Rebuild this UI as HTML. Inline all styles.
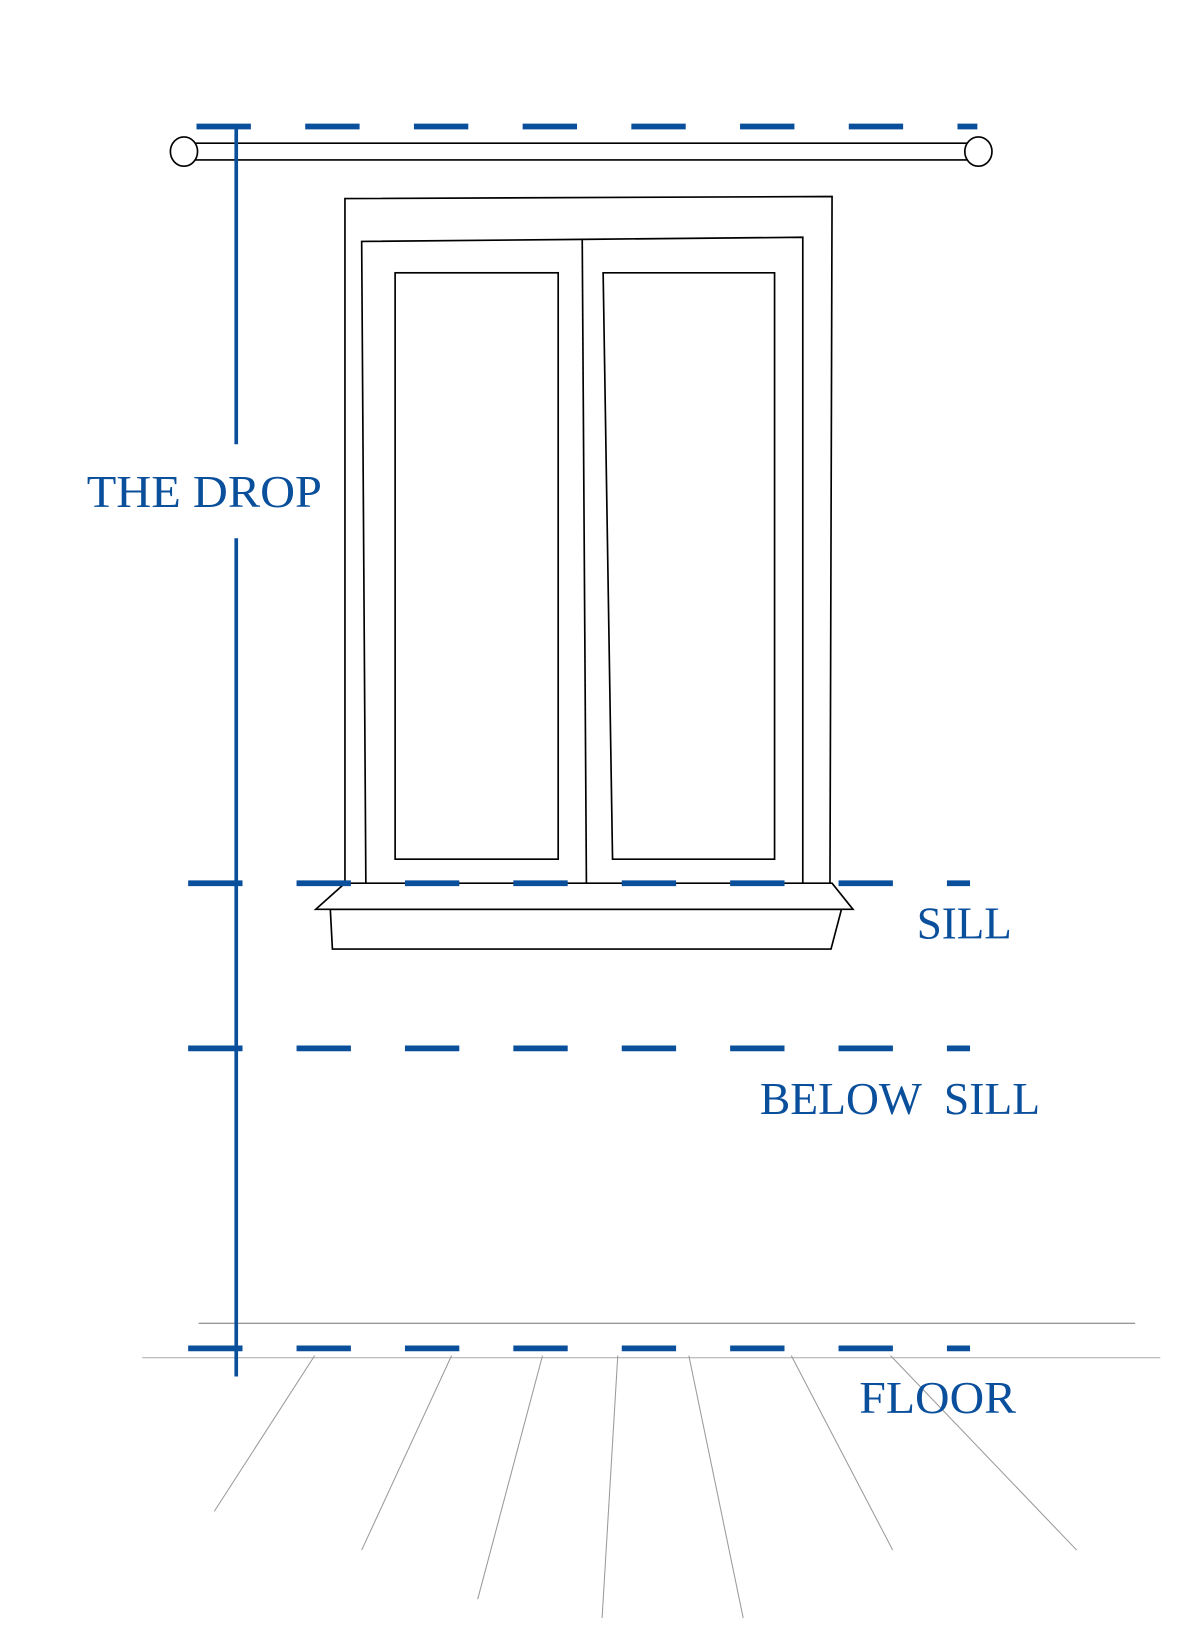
<!DOCTYPE html>
<html><head><style>html,body{margin:0;padding:0;background:#fff;}svg{display:block;}</style></head>
<body>
<svg width="1200" height="1641" viewBox="0 0 1148 1570" preserveAspectRatio="none" xmlns="http://www.w3.org/2000/svg">
<rect width="1148" height="1570" fill="#fff"/>
<g stroke="#000" stroke-width="1.6" fill="none">
<line x1="176" y1="137" x2="936" y2="137"/>
<line x1="176" y1="153" x2="936" y2="153"/>
<ellipse cx="176" cy="145" rx="13" ry="14" fill="#fff"/>
<ellipse cx="936" cy="145" rx="13" ry="14" fill="#fff"/>
<polyline points="330,845 330,190 796,188 794,845"/>
<polyline points="350,845 346,231 557,229 768,227 768,845"/>
<line x1="557" y1="229" x2="561" y2="845"/>
<rect x="378" y="261" width="156" height="561"/>
<polygon points="577,261 741,261 741,822 586,822"/>
<polygon points="302,870 330,845 796,845 816,870"/>
<polygon points="316,870 318,908 795,908 805,870"/>
</g>
<g stroke="#9a9a9a" stroke-width="1" fill="none">
<line x1="190" y1="1266" x2="1086" y2="1266" stroke="#777"/>
<line x1="136" y1="1299" x2="1110" y2="1299" stroke="#aaa"/>
<line x1="301" y1="1297" x2="205" y2="1446"/>
<line x1="432" y1="1297" x2="346" y2="1483"/>
<line x1="519" y1="1297" x2="457" y2="1530"/>
<line x1="591" y1="1297" x2="576" y2="1548"/>
<line x1="659" y1="1297" x2="711" y2="1548"/>
<line x1="757" y1="1297" x2="854" y2="1483"/>
<line x1="852" y1="1297" x2="1030" y2="1483"/>
</g>
<g stroke="#0a4f9c" stroke-width="5.5" fill="none">
<line x1="188" y1="121" x2="935" y2="121" stroke-dasharray="52 52"/>
<line x1="180" y1="845" x2="928" y2="845" stroke-dasharray="52 51.7"/>
<line x1="180" y1="1003" x2="928" y2="1003" stroke-dasharray="52 51.7"/>
<line x1="180" y1="1290" x2="928" y2="1290" stroke-dasharray="52 51.7"/>
</g>
<g stroke="#0a4f9c" stroke-width="3.5">
<line x1="226" y1="121" x2="226" y2="425"/>
<line x1="226" y1="515" x2="226" y2="1317"/>
</g>
<g fill="#0a4f9c" font-family="'Liberation Serif', serif" font-size="44">
<text x="83" y="485" textLength="225" lengthAdjust="spacingAndGlyphs">THE DROP</text>
<text x="877" y="898" textLength="91" lengthAdjust="spacingAndGlyphs">SILL</text>
<text x="727" y="1066" textLength="268" lengthAdjust="spacingAndGlyphs" xml:space="preserve">BELOW  SILL</text>
<text x="822" y="1352" textLength="150" lengthAdjust="spacingAndGlyphs">FLOOR</text>
</g>
</svg>
</body></html>
